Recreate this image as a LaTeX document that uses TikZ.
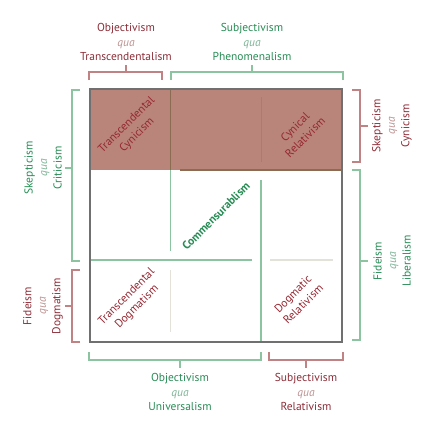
\documentclass[tikz,border=0pt]{standalone}
\usepackage{fontspec}
\setmainfont{PT Sans}
\definecolor{dred}{RGB}{140,45,55}
\definecolor{tred}{RGB}{150,40,50}
\definecolor{dgreen}{RGB}{40,140,85}
\definecolor{lred}{RGB}{192,130,130}
\definecolor{lgreen}{RGB}{140,195,160}
\definecolor{qred}{RGB}{190,145,145}
\definecolor{qgreen}{RGB}{125,180,150}
\definecolor{shadefill}{RGB}{185,133,122}
\definecolor{boxgrey}{RGB}{112,112,112}
\definecolor{faintline}{RGB}{226,226,216}
\definecolor{brownline}{RGB}{138,108,82}
\definecolor{shadeline}{RGB}{172,122,112}
\tikzset{
  lbl/.style={font=\fontsize{11.5}{14.5}\selectfont, align=center, inner sep=0pt},
  redlbl/.style={lbl, text=dred},
  greenlbl/.style={lbl, text=dgreen},
  cell/.style={lbl, text=tred, rotate=45},
  rbr/.style={draw=lred, line width=1.6pt},
  gbr/.style={draw=lgreen, line width=1.6pt},
  gline/.style={draw=lgreen, line width=1.8pt},
}
\newcommand{\quared}{\textcolor{qred}{\textit{qua}}}
\newcommand{\quagreen}{\textcolor{qgreen}{\textit{qua}}}
\begin{document}
\begin{tikzpicture}[x=1pt,y=-1pt]
\useasboundingbox (0,0) rectangle (432,432);
% shaded top row
\fill[shadefill] (90,89) rectangle (342,170);
% internal lines
\draw[gline] (170.5,170) -- (170.5,251);
\draw[gline] (90,260) -- (252,260);
\draw[gline] (261,180) -- (261,342);
\draw[faintline, line width=1.6pt] (270,260) -- (333,260);
\draw[faintline, line width=1.6pt] (170.5,270) -- (170.5,332);
\draw[brownline, line width=1.8pt] (170.5,89) -- (170.5,170);
\draw[brownline, line width=1.2pt] (180,170) -- (342,170);
\draw[shadeline, line width=1pt] (261.5,97) -- (261.5,162);
% frame
\draw[boxgrey, line width=2pt] (90,89) rectangle (342,342);
% brackets
\draw[rbr] (89,80) -- (89,72) -- (162,72) -- (162,80);
\draw[rbr] (126,72) -- (126,65);
\draw[gbr] (171,80) -- (171,72) -- (343,72) -- (343,80);
\draw[gbr] (252,72) -- (252,65);
\draw[gbr] (80,90) -- (72,90) -- (72,261) -- (80,261);
\draw[gbr] (72,168) -- (65,168);
\draw[rbr] (80,270) -- (72,270) -- (72,342) -- (80,342);
\draw[rbr] (72,306) -- (65,306);
\draw[rbr] (352,90) -- (360,90) -- (360,162) -- (352,162);
\draw[rbr] (360,126) -- (368,126);
\draw[gbr] (352,170) -- (360,170) -- (360,340) -- (352,340);
\draw[gbr] (360,261) -- (368,261);
\draw[gbr] (89,352) -- (89,360) -- (261,360) -- (261,352);
\draw[gbr] (180,360) -- (180,368);
\draw[rbr] (269,352) -- (269,360) -- (343,360) -- (343,352);
\draw[rbr] (306,360) -- (306,368);
% outer labels
\node[redlbl] (objT) at (126,42) {Objectivism\\\quared\\Transcendentalism};
\node[greenlbl] (subP) at (252,42) {Subjectivism\\\quagreen\\Phenomenalism};
\node[greenlbl, rotate=90] (skeC) at (43,168) {Skepticism\\\quagreen\\Criticism};
\node[redlbl, rotate=90] (fidD) at (43,306) {Fideism\\\quared\\Dogmatism};
\node[redlbl, rotate=90] (skeY) at (392,126) {Skepticism\\\quared\\Cynicism};
\node[greenlbl, rotate=90] (fidL) at (392,261) {Fideism\\\quagreen\\Liberalism};
\node[greenlbl] (objU) at (180,392) {Objectivism\\\quagreen\\Universalism};
\node[redlbl] (subR) at (306,392) {Subjectivism\\\quared\\Relativism};
% cell labels
\node[cell] (tc) at (132,130) {Transcendental\\Cynicism};
\node[cell] (cr) at (300,132) {Cynical\\Relativism};
\node[lbl, text=dgreen, rotate=45, font=\fontsize{11.5}{14.5}\selectfont\bfseries] (com) at (216,216) {Commensurablism};
\node[cell] (td) at (132,302) {Transcendental\\Dogmatism};
\node[cell] (dr) at (298,299) {Dogmatic\\Relativism};
\end{tikzpicture}
\end{document}
